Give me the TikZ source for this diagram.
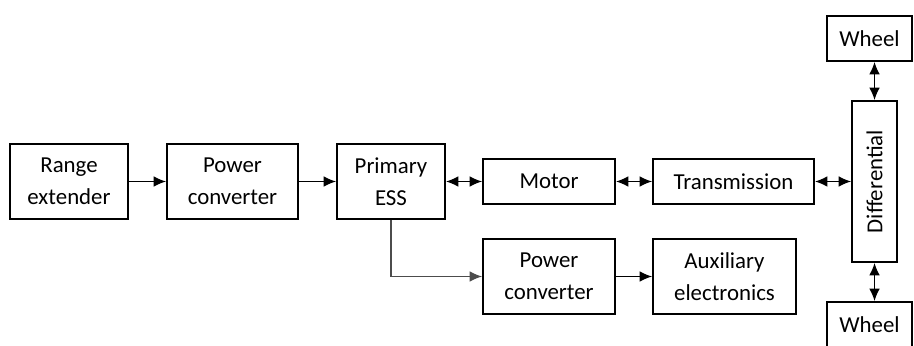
\documentclass[tikz,border=0pt]{standalone}
\usepackage{fontspec}
\setmainfont{Carlito}
\usepackage{tikz}
\usetikzlibrary{arrows.meta}

\tikzset{
  block/.style={draw,line width=1.1pt,align=center,inner sep=0pt,
    font=\fontsize{13}{18}\selectfont},
  flow/.style={line width=0.7pt,-{Latex[length=7pt,width=6pt]}},
  both/.style={line width=0.7pt,{Latex[length=7pt,width=6pt]}-{Latex[length=7pt,width=6pt]}}
}

\begin{document}
\begin{tikzpicture}
        \useasboundingbox (0,0) rectangle (18.28,6.9);
        \clip (0,0) rectangle (18.28,6.9);

        % source chain
        \node[block,minimum width=2.36cm,minimum height=1.5cm] (range) at (1.38,3.27) {Range\\extender};
        \node[block,minimum width=2.62cm,minimum height=1.5cm] (conv) at (4.65,3.27) {Power\\converter};
        \node[block,minimum width=2.16cm,minimum height=1.5cm] (ess) at (7.82,3.27) {Primary\\ESS};

        % drive train
        \node[block,minimum width=2.64cm,minimum height=0.9cm] (motor) at (10.98,3.27) {Motor};
        \node[block,minimum width=3.22cm,minimum height=0.9cm] (trans) at (14.67,3.27) {Transmission};
        \node[block,minimum width=0.9cm,minimum height=3.22cm] (diff) at (17.49,3.27) {};
        \node[rotate=90,font=\fontsize{13}{18}\selectfont] (difftxt) at (diff.center) {Differential};
        \node[block,minimum width=1.7cm,minimum height=0.9cm] (wheelA) at (17.39,6.13) {Wheel};
        \node[block,minimum width=1.7cm,minimum height=0.9cm] (wheelB) at (17.39,0.41) {Wheel};

        % auxiliary branch
        \node[block,minimum width=2.64cm,minimum height=1.5cm] (auxconv) at (10.98,1.37) {Power\\converter};
        \node[block,minimum width=2.86cm,minimum height=1.5cm] (aux) at (14.49,1.37) {Auxiliary\\electronics};

        \draw[flow] (range) -- (conv);
        \draw[flow] (conv) -- (ess);
        \draw[both] (ess) -- (motor);
        \draw[both] (motor) -- (trans);
        \draw[both] (trans) -- (diff);
        \draw[both] (wheelA.south -| diff.north) -- (diff.north);
        \draw[both] (diff.south) -- (wheelB.north -| diff.south);
        \draw[flow,gray!60!black] (ess.south) |- (auxconv.west);
        \draw[flow] (auxconv) -- (aux);
      \end{tikzpicture}
\end{document}
